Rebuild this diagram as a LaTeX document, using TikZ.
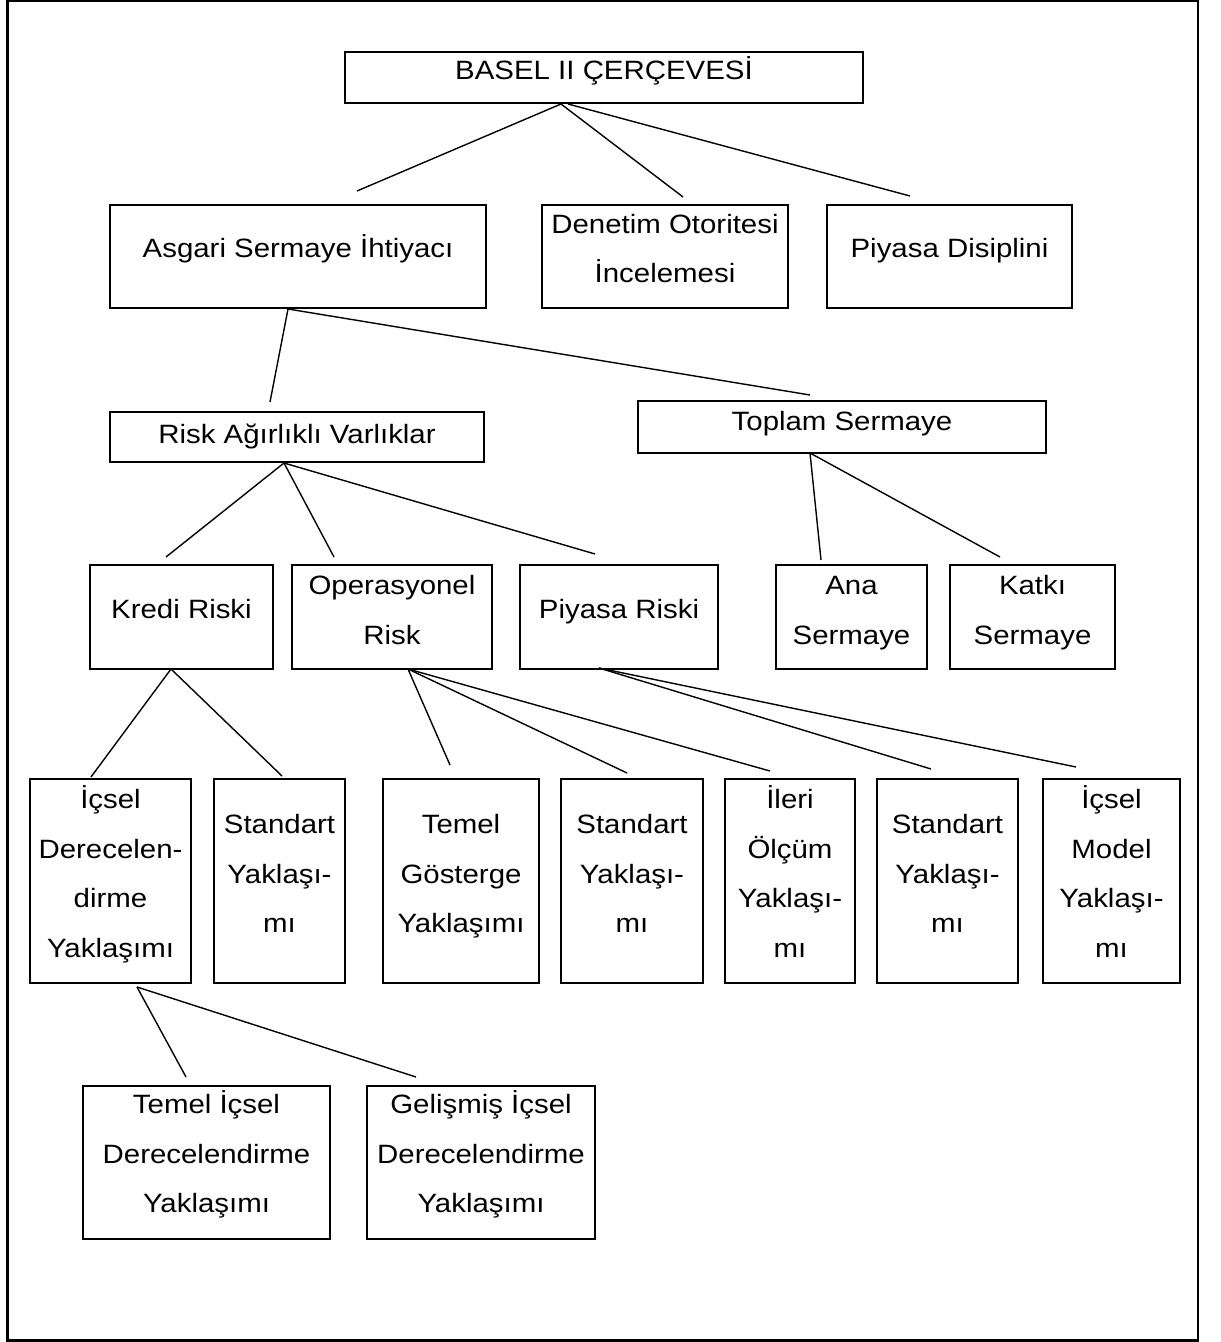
\documentclass[tikz,border=0pt]{standalone}
\usepackage{fontspec}
\setmainfont[FakeStretch=1.11]{Liberation Sans}
\usetikzlibrary{fit}
\newcommand\ls{\rule[-7.63pt]{0pt}{24.75pt}}
\begin{document}
\begin{tikzpicture}[x=0.5pt,y=-0.5pt,
  box/.style={draw, line width=1.2pt, inner sep=0pt},
  txt/.style={inner sep=0pt, align=center, font=\fontsize{13.25pt}{24.75pt}\selectfont},
  conn/.style={line width=0.7pt},
  frame/.style={line width=1.1pt}]
\useasboundingbox (0,0) rectangle (1220,1342);
\draw[frame] (7.5,1.2) rectangle (1198,1340.5);

% boxes
\node[box, fit={(345,52) (863,103)}] (basel) {};
\node[box, fit={(110,205) (486,308)}] (asgari) {};
\node[box, fit={(542,205) (788,308)}] (denetim) {};
\node[box, fit={(827,205) (1072,308)}] (piyasaD) {};
\node[box, fit={(110,412) (484,462)}] (risk) {};
\node[box, fit={(638,401) (1046,453)}] (toplam) {};
\node[box, fit={(90,565) (273,669)}] (kredi) {};
\node[box, fit={(292,565) (492,669)}] (oper) {};
\node[box, fit={(520,565) (718,669)}] (piyasaR) {};
\node[box, fit={(776,565) (927,669)}] (ana) {};
\node[box, fit={(950,565) (1115,669)}] (katki) {};
\node[box, fit={(30,779) (191,983)}] (icsel) {};
\node[box, fit={(214,779) (345,983)}] (std1) {};
\node[box, fit={(383,779) (539,983)}] (temelG) {};
\node[box, fit={(561,779) (703,983)}] (std2) {};
\node[box, fit={(725,779) (855,983)}] (ileri) {};
\node[box, fit={(877,779) (1018,983)}] (std3) {};
\node[box, fit={(1043,779) (1180,983)}] (icselM) {};
\node[box, fit={(83,1086) (330,1239)}] (temelI) {};
\node[box, fit={(367,1086) (595,1239)}] (gelismis) {};

% texts
\node[txt] (basel-t) at ([yshift=3.75pt]basel.center) {\ls BASEL II ÇERÇEVESİ};
\node[txt] (asgari-t) at ([yshift=4pt]asgari.center) {\ls Asgari Sermaye İhtiyacı};
\node[txt] (denetim-t) at ([yshift=4pt]denetim.center) {\ls Denetim Otoritesi\\\ls İncelemesi};
\node[txt] (piyasaD-t) at ([yshift=4pt]piyasaD.center) {\ls Piyasa Disiplini};
\node[txt] (risk-t) at ([yshift=1.5pt]risk.center) {\ls Risk Ağırlıklı Varlıklar};
\node[txt] (toplam-t) at ([yshift=3pt]toplam.center) {\ls Toplam Sermaye};
\node[txt] (kredi-t) at ([yshift=4pt]kredi.center) {\ls Kredi Riski};
\node[txt] (oper-t) at ([yshift=3.5pt]oper.center) {\ls Operasyonel\\\ls Risk};
\node[txt] (piyasaR-t) at ([yshift=4pt]piyasaR.center) {\ls Piyasa Riski};
\node[txt] (ana-t) at ([yshift=3.5pt]ana.center) {\ls Ana\\\ls Sermaye};
\node[txt] (katki-t) at ([yshift=3.5pt]katki.center) {\ls Katkı\\\ls Sermaye};
\node[txt] (icsel-t) at ([yshift=3.75pt]icsel.center) {\ls İçsel\\\ls Derecelen-\\\ls dirme\\\ls Yaklaşımı};
\node[txt] (std1-t) at ([yshift=3.75pt]std1.center) {\ls Standart\\\ls Yaklaşı-\\\ls mı};
\node[txt] (temelG-t) at ([yshift=3.75pt]temelG.center) {\ls Temel\\\ls Gösterge\\\ls Yaklaşımı};
\node[txt] (std2-t) at ([yshift=3.75pt]std2.center) {\ls Standart\\\ls Yaklaşı-\\\ls mı};
\node[txt] (ileri-t) at ([yshift=3.75pt]ileri.center) {\ls İleri\\\ls Ölçüm\\\ls Yaklaşı-\\\ls mı};
\node[txt] (std3-t) at ([yshift=3.75pt]std3.center) {\ls Standart\\\ls Yaklaşı-\\\ls mı};
\node[txt] (icselM-t) at ([yshift=3.75pt]icselM.center) {\ls İçsel\\\ls Model\\\ls Yaklaşı-\\\ls mı};
\node[txt] (temelI-t) at ([yshift=4.5pt]temelI.center) {\ls Temel İçsel\\\ls Derecelendirme\\\ls Yaklaşımı};
\node[txt] (gelismis-t) at ([yshift=4.5pt]gelismis.center) {\ls Gelişmiş İçsel\\\ls Derecelendirme\\\ls Yaklaşımı};

% connector end points
\coordinate (basel-o1) at (561,104);
\coordinate (basel-o2) at (568,104);
\coordinate (asgari-i) at (357,191);
\coordinate (denetim-i) at (683,197);
\coordinate (piyasaD-i) at (910,196);
\coordinate (asgari-o) at (288,309);
\coordinate (risk-i) at (270,402);
\coordinate (toplam-i) at (810,395);
\coordinate (risk-o) at (284,463);
\coordinate (kredi-i) at (166,557);
\coordinate (oper-i) at (334,557);
\coordinate (piyasaR-i) at (595,554);
\coordinate (toplam-o) at (810,453);
\coordinate (ana-i) at (821,560);
\coordinate (katki-i) at (1000,557);
\coordinate (kredi-o) at (171,669);
\coordinate (icsel-i) at (91,777);
\coordinate (std1-i) at (282,776);
\coordinate (oper-o) at (408,669);
\coordinate (temelG-i) at (450,765);
\coordinate (std2-i) at (627,773);
\coordinate (ileri-i) at (770,771);
\coordinate (piyasaR-o) at (599,668);
\coordinate (std3-i) at (931,769);
\coordinate (icselM-i) at (1076,767);
\coordinate (icsel-o) at (137,987);
\coordinate (temelI-i) at (186,1077);
\coordinate (gelismis-i) at (416,1077);

% connectors
\draw[conn] (basel-o1) -- (asgari-i);
\draw[conn] (basel-o1) -- (denetim-i);
\draw[conn] (basel-o2) -- (piyasaD-i);
\draw[conn] (asgari-o) -- (risk-i);
\draw[conn] (asgari-o) -- (toplam-i);
\draw[conn] (risk-o) -- (kredi-i);
\draw[conn] (risk-o) -- (oper-i);
\draw[conn] (risk-o) -- (piyasaR-i);
\draw[conn] (toplam-o) -- (ana-i);
\draw[conn] (toplam-o) -- (katki-i);
\draw[conn] (kredi-o) -- (icsel-i);
\draw[conn] (kredi-o) -- (std1-i);
\draw[conn] (oper-o) -- (temelG-i);
\draw[conn] (oper-o) -- (std2-i);
\draw[conn] (oper-o) -- (ileri-i);
\draw[conn] (piyasaR-o) -- (std3-i);
\draw[conn] (piyasaR-o) -- (icselM-i);
\draw[conn] (icsel-o) -- (temelI-i);
\draw[conn] (icsel-o) -- (gelismis-i);
\end{tikzpicture}
\end{document}
